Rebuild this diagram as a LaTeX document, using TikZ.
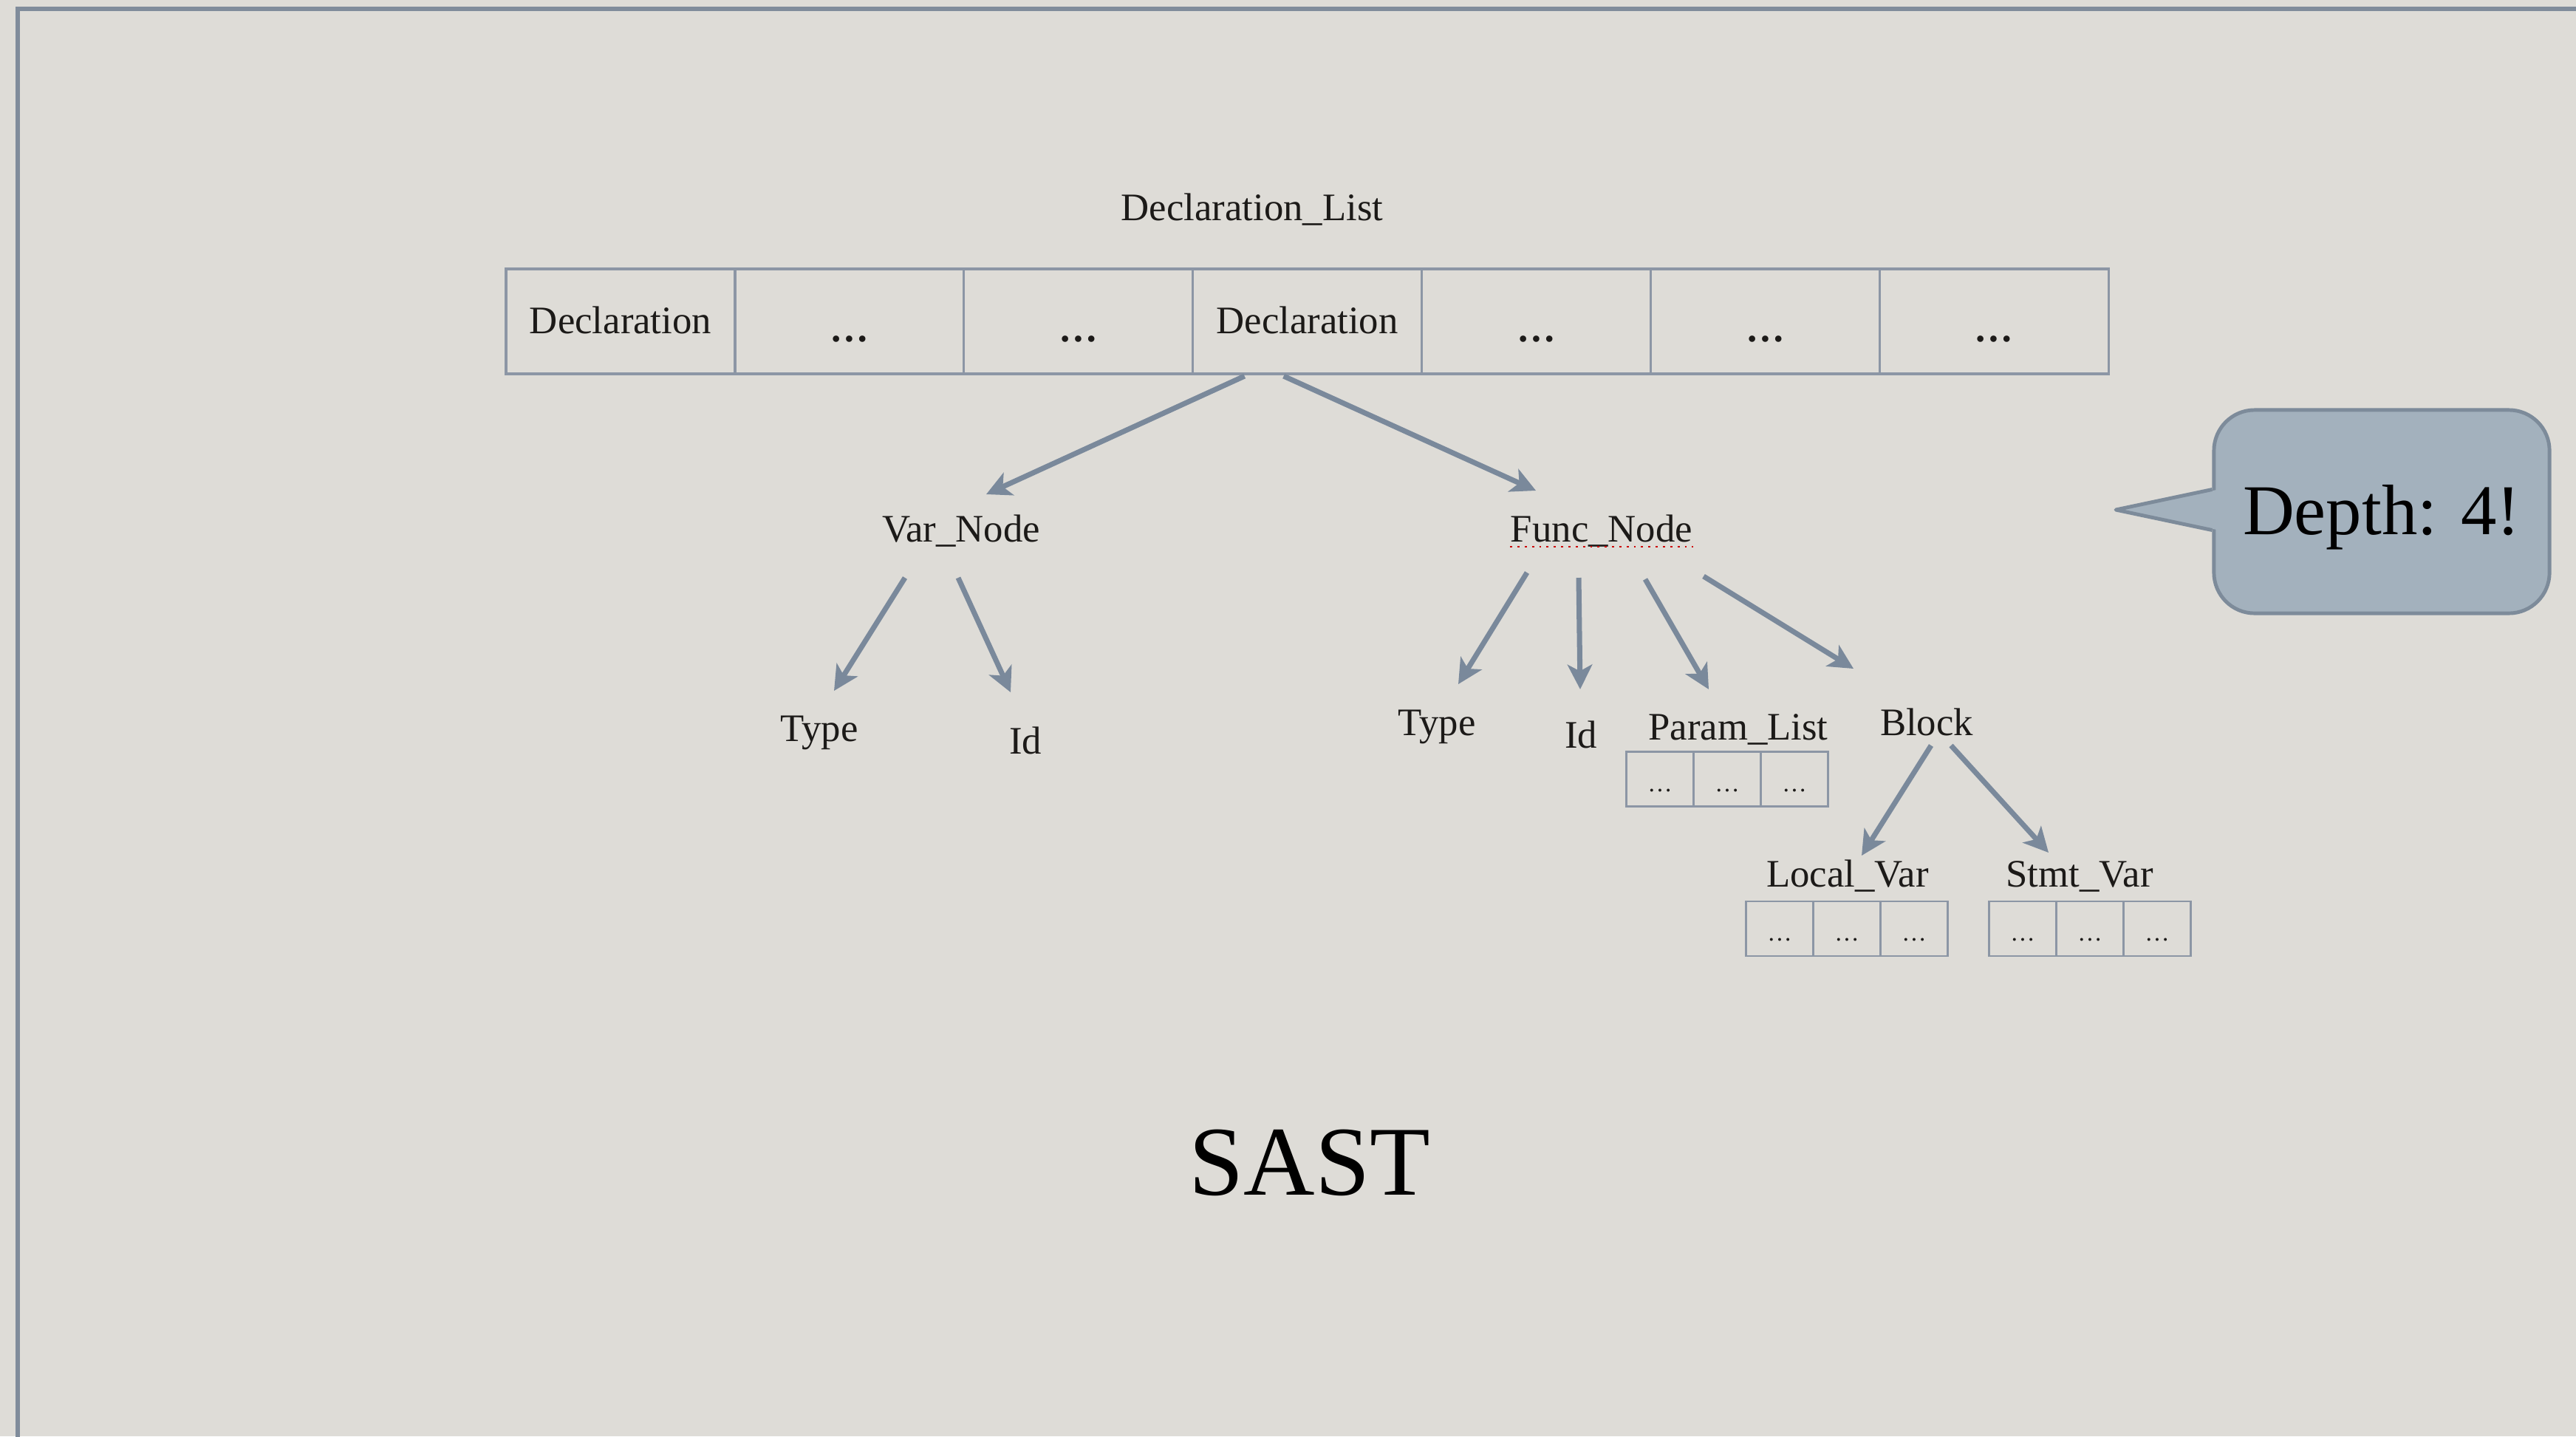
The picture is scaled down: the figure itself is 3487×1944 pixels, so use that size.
\documentclass[tikz,border=0pt]{standalone}
\usepackage{fontspec}
\setmainfont{Liberation Serif}
\usetikzlibrary{calc, arrows.meta, positioning}
\definecolor{paper}{RGB}{222,220,215}
\definecolor{slate}{RGB}{128,140,155}
\definecolor{arrowgray}{RGB}{122,137,155}
\definecolor{cellline}{RGB}{140,150,165}
\definecolor{bubble}{RGB}{163,177,189}
\definecolor{bubbleline}{RGB}{125,139,154}
\definecolor{ink}{RGB}{28,26,24}

\begin{document}
\begin{tikzpicture}[x=0.01cm,y=-0.01cm,
  arr/.style={>={Stealth[length=9.5pt,width=9.5pt,inset=2.5pt]},->,draw=arrowgray,line width=2pt},
  lbl/.style={anchor=base,inner sep=0pt,text=ink,font=\fontsize{15pt}{18pt}\selectfont},
  cell/.style={draw=cellline,line width=0.9pt,minimum width=3.097cm,minimum height=1.42cm,outer sep=0pt,inner sep=0pt,text height=9.1pt,text depth=0pt,text=ink,font=\fontsize{15pt}{18pt}\selectfont},
  dotcell/.style={cell,text height=15.4pt},
  scell/.style={draw=cellline,line width=0.7pt,minimum width=0.91cm,minimum height=0.74cm,outer sep=0pt,inner sep=0pt,text height=9.4pt,text depth=0pt,text=ink,font=\fontsize{9.5pt}{11pt}\selectfont},
  bubblebox/.style={draw=bubbleline,fill=bubble,line width=1.4pt,rounded corners=0.55cm,minimum width=4.54cm,minimum height=2.75cm,text height=19pt,text depth=1.6pt,text={RGB:red,25;green,38;blue,48},font=\fontsize{27.5pt}{33pt}\selectfont},
]
\useasboundingbox (0,0) rectangle (3487,1944);
\fill[paper] (0,0) rectangle (3487,1944);
\draw[slate,line width=1.5pt] (3600,12) -- (24,12) -- (24,2100);

% declaration list
\node[lbl] (nList) at (1695,298) {Declaration\_List};
\node[cell] (nD1) at (840,435) {Declaration};
\node[dotcell,right=0pt of nD1] (nD2) {\textbf{\dots}};
\node[dotcell,right=0pt of nD2] (nD3) {\textbf{\dots}};
\node[cell,right=0pt of nD3] (nD4) {Declaration};
\node[dotcell,right=0pt of nD4] (nD5) {\textbf{\dots}};
\node[dotcell,right=0pt of nD5] (nD6) {\textbf{\dots}};
\node[dotcell,right=0pt of nD6] (nD7) {\textbf{\dots}};

% tree
\node[lbl] (nVar) at (1301,733) {Var\_Node};
\node[lbl] (nFunc) at (2168,733) {Func\_Node};
\node[lbl] (nTypeV) at (1109,1003) {Type};
\node[lbl] (nIdV) at (1388,1020) {Id};
\node[lbl] (nTypeF) at (1945,995) {Type};
\node[lbl] (nIdF) at (2140,1012) {Id};
\node[lbl] (nParam) at (2353,1001) {Param\_List};
\node[lbl] (nBlock) at (2608,995) {Block};
\node[lbl] (nLocal) at (2501,1200) {Local\_Var};
\node[lbl] (nStmt) at (2815,1200) {Stmt\_Var};
\draw[red!80!black,dotted,line width=0.8pt] ($(nFunc.base west)+(0,7)$) -- ($(nFunc.base east)+(0,7)$);

\node[scell] (nP1) at (2247,1054.5) {\dots};
\node[scell,right=0pt of nP1] (nP2) {\dots};
\node[scell,right=0pt of nP2] (nP3) {\dots};
\node[scell] (nL1) at (2409,1257) {\dots};
\node[scell,right=0pt of nL1] (nL2) {\dots};
\node[scell,right=0pt of nL2] (nL3) {\dots};
\node[scell] (nS1) at (2738,1257) {\dots};
\node[scell,right=0pt of nS1] (nS2) {\dots};
\node[scell,right=0pt of nS2] (nS3) {\dots};

\draw[arr] ($(nD4.south)+(-85,3)$) -- ($(nVar.base)+(34,-64)$);
\draw[arr] ($(nD4.south)+(-32,3)$) -- ($(nFunc.base)+(-89,-69)$);
\draw[arr] ($(nVar.base)+(-76,49)$) -- ($(nTypeV.base)+(20,-68)$);
\draw[arr] ($(nVar.base)+(-4,49)$) -- ($(nIdV.base)+(-20,-83)$);
\draw[arr] ($(nFunc.base)+(-101,42)$) -- ($(nTypeF.base)+(29,-69)$);
\draw[arr] ($(nFunc.base)+(-31,49)$) -- ($(nIdF.base)+(-1,-79)$);
\draw[arr] ($(nFunc.base)+(59,51)$) -- ($(nParam.base)+(-40,-68)$);
\draw[arr] ($(nFunc.base)+(138,47)$) -- ($(nBlock.base)+(-99,-90)$);
\draw[arr] ($(nBlock.base)+(6,14)$) -- ($(nLocal.base)+(19,-42)$);
\draw[arr] ($(nBlock.base)+(33,14)$) -- ($(nStmt.base)+(-42,-46)$);

% title and callout
\node[anchor=base,inner sep=0pt,font=\fontsize{38pt}{45pt}\selectfont] (nSast) at (1773,1617) {SAST};
\node[bubblebox] (nDepth) at (3224,692.5) {Depth: 4!};
\coordinate (cTip) at (2864,690);
\fill[bubble] ($(nDepth.west)+(9,-30)$) -- (cTip) -- ($(nDepth.west)+(9,25)$) -- cycle;
\draw[bubbleline,line width=1.4pt,line join=round] ($(nDepth.west)+(0,-30)$) -- (cTip) -- ($(nDepth.west)+(0,25)$);
\end{tikzpicture}
\end{document}
